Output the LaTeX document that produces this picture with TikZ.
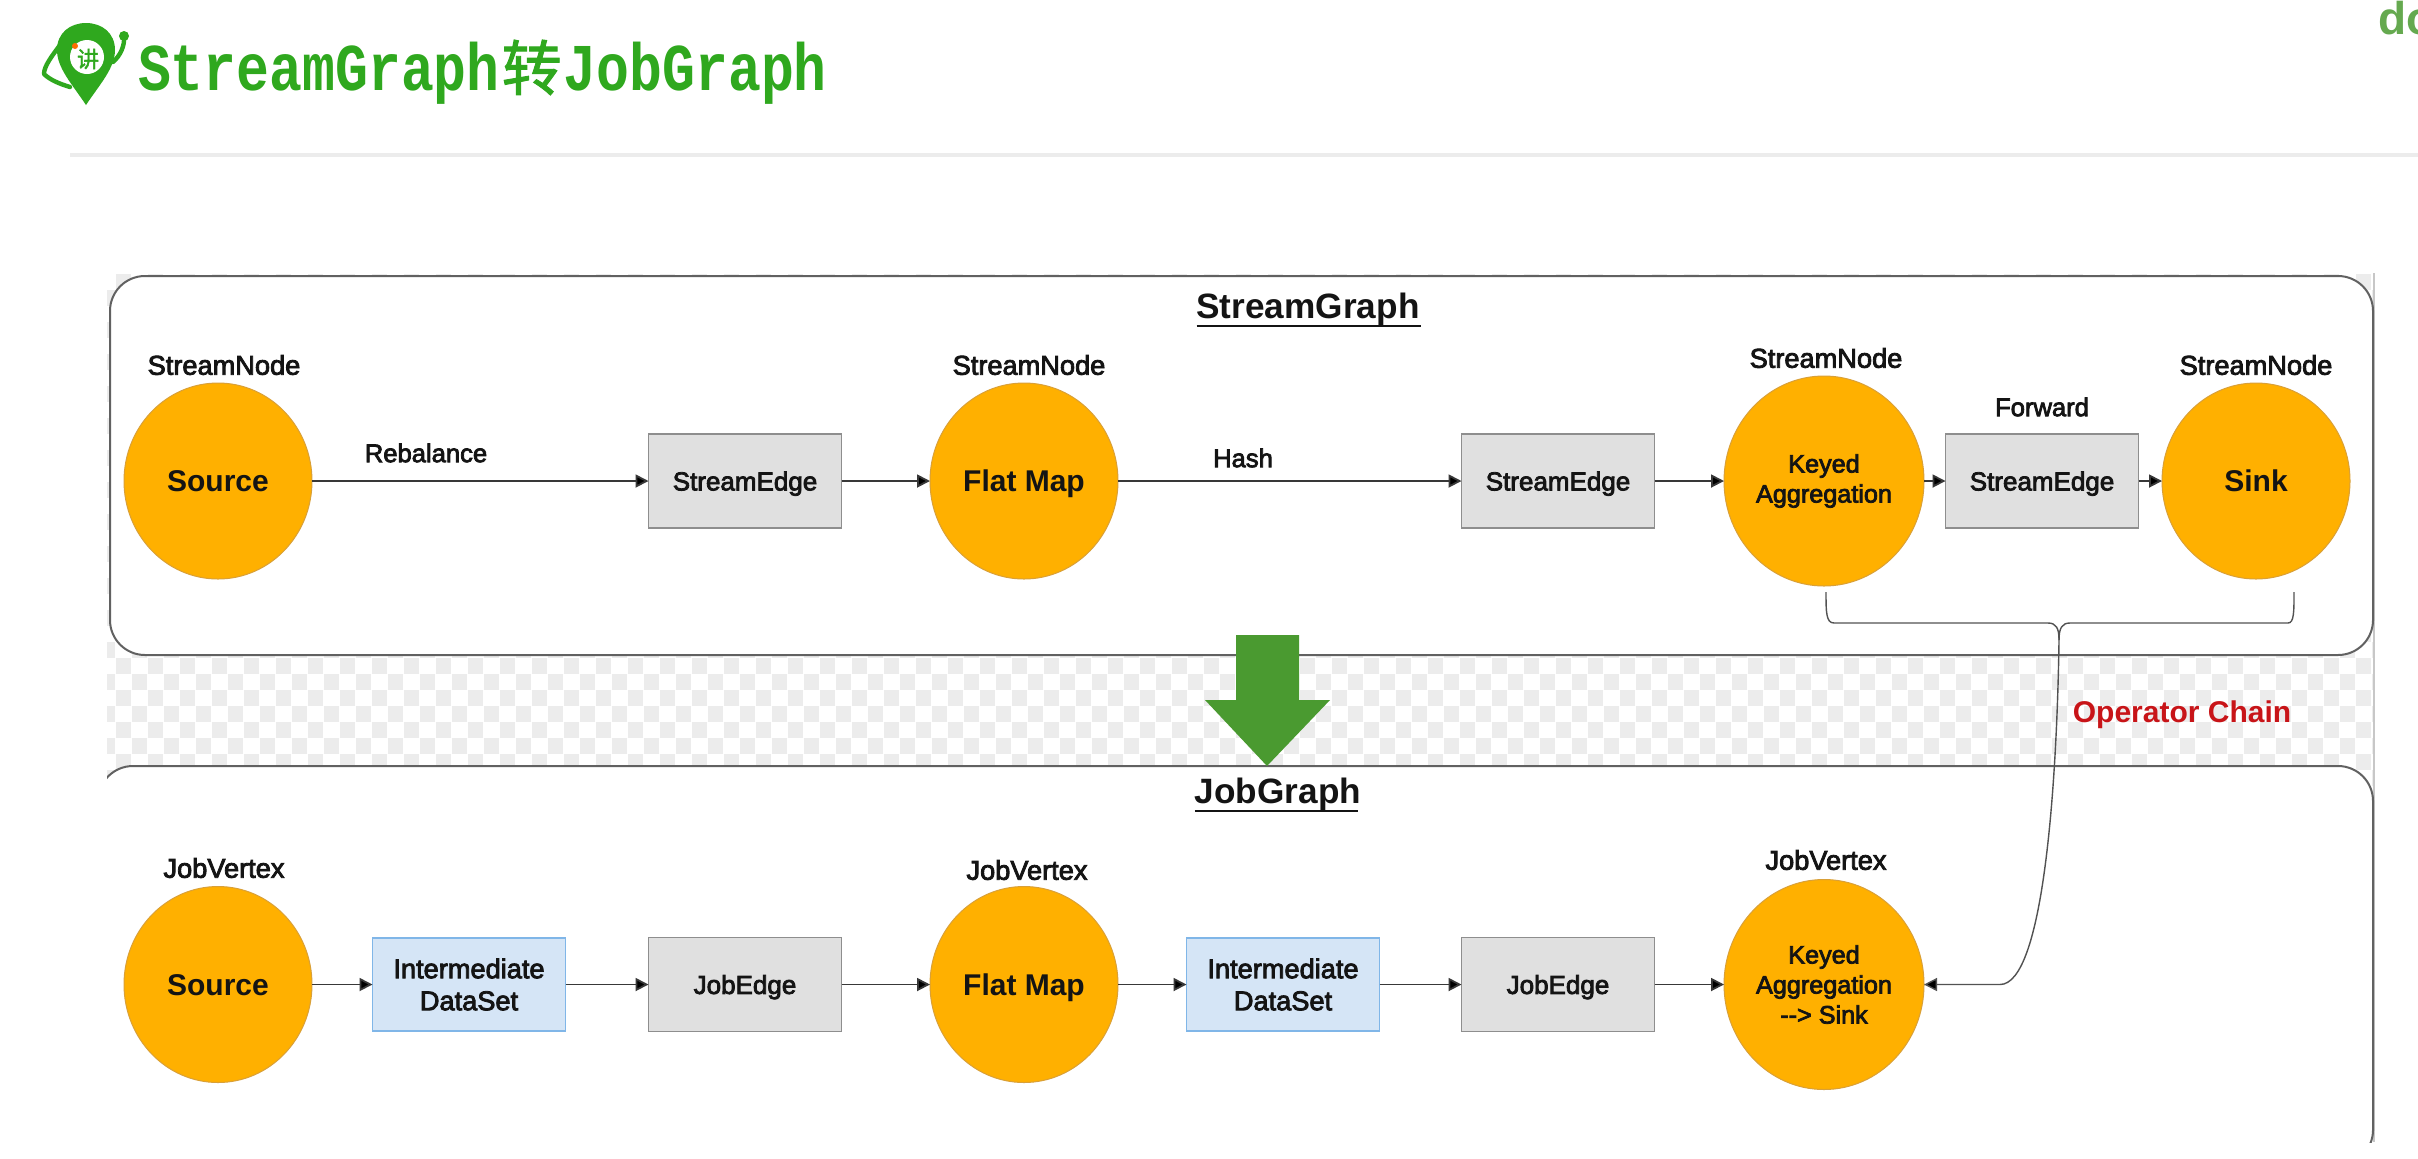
\documentclass[tikz,border=0pt]{standalone}
\usepackage{fontspec}
\usepackage{graphicx}
\setmainfont{Liberation Sans}
\newfontfamily\medf[FakeBold=3]{Liberation Sans}
\newfontfamily\boldf{Liberation Sans Bold}
\newfontfamily\monof{Liberation Mono Bold}
\newfontfamily\cjk[FakeBold=1.5]{Noto Sans CJK SC}
\usetikzlibrary{shapes.geometric,arrows.meta}
\definecolor{orng}{HTML}{FFB000}
\definecolor{orngb}{HTML}{D9A038}
\definecolor{greyf}{HTML}{E0E0E0}
\definecolor{greyb}{HTML}{8E8E8E}
\definecolor{bluef}{HTML}{D5E5F6}
\definecolor{blueb}{HTML}{80B6E8}
\definecolor{chk}{HTML}{ECECEC}
\definecolor{ttl}{HTML}{2FA81E}
\definecolor{darrow}{HTML}{4A9A30}
\definecolor{chain}{HTML}{C81418}
\newcommand{\tsz}[1]{\fontsize{#1}{#1}\selectfont}
\tikzset{
  x=0.5pt,y=-0.5pt,
  every node/.style={inner sep=0pt,outer sep=0pt,text=black!92},
  opbig/.style={shape=ellipse,fill=orng,draw=orngb,line width=0.5pt,minimum width=94pt,minimum height=98pt,text height=10.5pt,text depth=0pt,font=\boldf\tsz{15}},
  opkey/.style={shape=ellipse,fill=orng,draw=orngb,line width=0.5pt,minimum width=100pt,minimum height=105pt,align=center,font=\medf\fontsize{12.6}{15}\selectfont},
  edgebox/.style={shape=rectangle,fill=greyf,draw=greyb,line width=0.6pt,minimum width=96.5pt,minimum height=47pt,text height=9.4pt,text depth=0pt,font=\medf\tsz{13}},
  databox/.style={shape=rectangle,fill=bluef,draw=blueb,line width=0.7pt,minimum width=96.5pt,minimum height=46.5pt,align=center,font=\medf\fontsize{13.6}{16}\selectfont},
  caplabel/.style={font=\medf\tsz{13.6}},
  smalllabel/.style={font=\medf\tsz{12.8}},
  conn/.style={draw=black!78,line width=0.9pt,-{Triangle[length=6.5pt,width=6.5pt,fill=black]}},
  frameline/.style={draw=black!62,line width=1pt},
  bracketline/.style={draw=black!68,line width=0.7pt},
}
\begin{document}
\begin{tikzpicture}
\useasboundingbox (0,0) rectangle (2418,1158);
\clip (0,0) rectangle (2418,1158);
\fill[white] (0,0) rectangle (2418,1158);
% checker
\begin{scope}
\clip (107,273) rectangle (2373,810);
\foreach \j in {-24,...,9}{
  \foreach \i in {-67,...,75}{
    \pgfmathtruncatemacro{\parity}{mod(abs(\i+\j),2)}
    \ifnum\parity=0
      \fill[chk] ({1172+16*\i},{658+16*\j}) rectangle +(15,15.5);
    \fi
  }
}
\end{scope}
\draw[black!22,line width=0.6pt] (2374,273) -- (2374,1142);
% header
\draw[chk,line width=1.6pt] (70,155) -- (2418,155);
\begin{scope}
\fill[ttl] (86,105) .. controls (72,84) and (57,68) .. (57,50) .. controls (57,33) and (70,23) .. (86,23) .. controls (102,23) and (115,33) .. (115,50) .. controls (115,68) and (100,84) .. (86,105) -- cycle;
\draw[ttl,line width=2.2pt,line cap=round,line join=round] (60,45) .. controls (52,56) and (44,66) .. (44,74) .. controls (50,80) and (60,84) .. (70,87);
\draw[ttl,line width=2.2pt,line cap=round] (113,62) .. controls (120,56) and (125,46) .. (124,36);
\fill[ttl] (124,36) circle[radius=5];
\fill[white] (87,57) circle[radius=17];
\node[font=\cjk\tsz{11},text=ttl] (logochar) at (88,59) {讲};
\fill[orange!85!red] (75,46) circle[radius=3];
\end{scope}
\node[anchor=west,text=ttl] (title) at (138,72) {\tsz{27.4}\monof\scalebox{1}[1.22]{StreamGraph}\hspace{1pt}{\cjk\tsz{30}转}\hspace{1pt}\scalebox{1}[1.22]{JobGraph}};
\node[anchor=west,text=darrow!85!white] (corner) at (2378,18) {\boldf\tsz{23}do};
% frames
\draw[frameline,fill=white,rounded corners=17.5pt] (110,276) rectangle (2373,655);
\begin{scope}
\clip (107,700) rectangle (2418,1142);
\draw[frameline,fill=white,rounded corners=17.5pt] (98,766) rectangle (2373,1165);
\end{scope}
% big arrow
\fill[darrow] (1236,635) -- (1299,635) -- (1299,700) -- (1330,700) -- (1267,766) -- (1205,700) -- (1236,700) -- cycle;
% titles
\node[font=\boldf\tsz{17.6}] (sgt) at (1308,310) {\rlap{\raisebox{-4pt}{\rule{112pt}{0.9pt}}}StreamGraph};
\node[font=\boldf\tsz{17.6}] (jgt) at (1278,795) {\rlap{\raisebox{-4pt}{\rule{81.5pt}{0.9pt}}}JobGraph};
% stream row
\node[opbig] (src1) at (218,481) {Source};
\node[edgebox] (se1) at (745,481) {StreamEdge};
\node[opbig] (fm1) at (1024,481) {Flat Map};
\node[edgebox] (se2) at (1558,481) {StreamEdge};
\node[opkey] (key1) at (1824,481) {Keyed\\Aggregation};
\node[edgebox] (se3) at (2042,481) {StreamEdge};
\node[opbig] (sink) at (2256,481) {Sink};
\node[caplabel] (l1) at (224,365) {StreamNode};
\node[caplabel] (l2) at (1029,365) {StreamNode};
\node[caplabel] (l3) at (1826,358) {StreamNode};
\node[caplabel] (l4) at (2256,365) {StreamNode};
\node[smalllabel] (reb) at (426,453) {Rebalance};
\node[smalllabel] (hash) at (1243,458) {Hash};
\node[smalllabel] (fwd) at (2042,407) {Forward};
\draw[conn] (src1.east) -- (se1.west);
\draw[conn] (se1.east) -- (fm1.west);
\draw[conn] (fm1.east) -- (se2.west);
\draw[conn] (se2.east) -- (key1.west);
\draw[conn] (key1.east) -- (se3.west);
\draw[conn] (se3.east) -- (sink.west);
% job row
\node[opbig] (src2) at (218,984.5) {Source};
\node[databox] (ds1) at (469,984.5) {Intermediate\\DataSet};
\node[edgebox] (je1) at (745,984.5) {JobEdge};
\node[opbig] (fm2) at (1024,984.5) {Flat Map};
\node[databox] (ds2) at (1283,984.5) {Intermediate\\DataSet};
\node[edgebox] (je2) at (1558,984.5) {JobEdge};
\node[opkey] (key2) at (1824,984.5) {Keyed\\Aggregation\\{-}{-}> Sink};
\node[caplabel] (l5) at (224,868) {JobVertex};
\node[caplabel] (l6) at (1027,870) {JobVertex};
\node[caplabel] (l7) at (1826,860) {JobVertex};
\draw[conn] (src2.east) -- (ds1.west);
\draw[conn] (ds1.east) -- (je1.west);
\draw[conn] (je1.east) -- (fm2.west);
\draw[conn] (fm2.east) -- (ds2.west);
\draw[conn] (ds2.east) -- (je2.west);
\draw[conn] (je2.east) -- (key2.west);
% operator chain bracket
\coordinate (brl) at (1826,592);
\coordinate (brr) at (2294,592);
\coordinate (brm) at (2059,640);
\draw[bracketline] (brl) .. controls (1826,612) and (1826,623) .. (1834,623) -- (2048,623) .. controls (2056,623) and (2059,628) .. (brm);
\draw[bracketline] (brr) .. controls (2294,612) and (2294,623) .. (2288,623) -- (2070,623) .. controls (2062,623) and (2059,628) .. (brm);
\draw[bracketline,-{Triangle[length=6.5pt,width=6.5pt,fill=black]}] (brm) .. controls (2057,780) and (2044,984.5) .. (2000,984.5) -- (key2.east);
\node[font=\boldf\tsz{15},text=chain] (opc) at (2182,715) {Operator Chain};
\end{tikzpicture}
\end{document}
